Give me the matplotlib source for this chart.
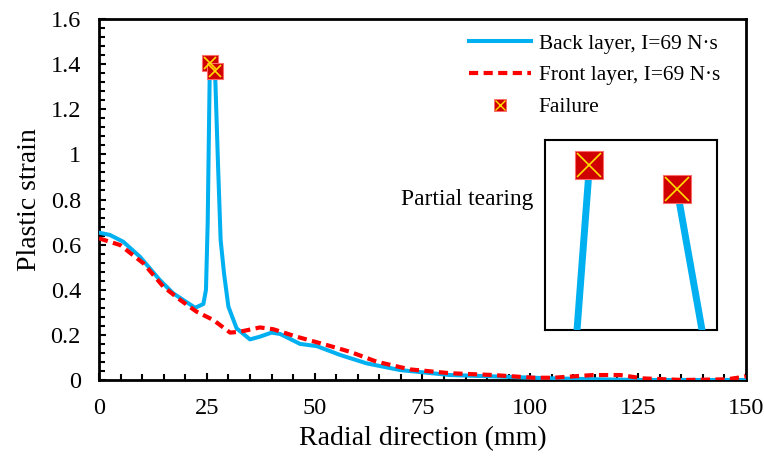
import matplotlib
matplotlib.use("Agg")
import matplotlib.pyplot as plt
from matplotlib.lines import Line2D
from matplotlib.legend_handler import HandlerTuple
from matplotlib.ticker import MultipleLocator

plt.rcParams['font.family'] = ['Liberation Serif', 'DejaVu Serif']

NaN = float('nan')

# ---- data ----
back_x = [0, 2.5, 5.6, 9.5, 14.1, 17.2, 22.3, 24.2, 24.8, 25.2, 25.7, 26.3, 26.9, 27.6, 28.2, 29.0,
          30.0, 31.9, 35.0, 37.3, 40.0, 42.0, 46.6, 50.5, 55.9, 62.0, 69.8, 81.4, 93.0,
          104.6, 116.0, 125.0, 135.0, 150.0]
back_y = [0.653, 0.643, 0.613, 0.546, 0.443, 0.384, 0.320, 0.337, 0.40, 0.70, 1.404, NaN, 1.369, 0.95, 0.62, 0.47,
          0.325, 0.229, 0.180, 0.192, 0.210, 0.204, 0.160, 0.150, 0.111, 0.074, 0.044, 0.022, 0.015,
          0.0075, 0.003, 0.0, 0.0, 0.0]

front_x = [0, 4.9, 10.3, 14.9, 18.8, 22.6, 26.5, 30.4, 32.7, 37.3, 40.4, 45.8, 52.8, 58.2,
           64.4, 72.1, 81.4, 91.4, 100.7, 105.3, 114.6, 120.8, 126.2, 135.4, 145.6, 149.8, 150]
front_y = [0.628, 0.598, 0.517, 0.414, 0.355, 0.303, 0.266, 0.210, 0.214, 0.233, 0.225, 0.192, 0.155, 0.125,
           0.081, 0.047, 0.030, 0.022, 0.010, 0.010, 0.022, 0.022, 0.007, 0.0, 0.003, 0.015, 0.02]

failure_x = [25.7, 26.9]
failure_y = [1.404, 1.369]

x_ticks = [0, 25, 50, 75, 100, 125, 150]
y_ticks = [0, 0.2, 0.4, 0.6, 0.8, 1.0, 1.2, 1.4, 1.6]
y_tick_labels = ['0', '0.2', '0.4', '0.6', '0.8', '1', '1.2', '1.4', '1.6']

label_back = 'Back layer, I=69 N\u00b7s'
label_front = 'Front layer, I=69 N\u00b7s'
label_fail = 'Failure'

BLUE = '#00B0F0'
RED = '#FF0000'

fig = plt.figure(figsize=(7.64, 4.57), dpi=100)
ax = fig.add_axes([0.1296, 0.1685, 0.8468, 0.7899])

ax.plot(back_x, back_y, color=BLUE, lw=2.9, solid_joinstyle='round', zorder=3)
ax.plot(front_x, front_y, color=RED, lw=3.0, dashes=(2.2, 1.3), zorder=4)


def failure(a, ms):
    a.plot(failure_x, failure_y, ls='none', marker='s', ms=ms, mfc='#D00000',
           mec='#FF6A6A', mew=0.8, zorder=5)
    a.plot(failure_x, failure_y, ls='none', marker='x', ms=ms * 0.85, mec='#FFE000',
           mew=1.2, zorder=6)


failure(ax, 11)

ax.set_xlim(0, 150)
ax.set_ylim(0, 1.6)
ax.set_xticks(x_ticks)
ax.set_yticks(y_ticks)
ax.set_yticklabels(y_tick_labels)
ax.xaxis.set_minor_locator(MultipleLocator(5))
ax.yaxis.set_minor_locator(MultipleLocator(0.04))
ax.tick_params(which='both', direction='in', width=1.5, labelsize=17.5, pad=13,
               top=False, right=False, colors='black')
ax.tick_params(which='major', length=5)
ax.tick_params(which='minor', length=4.5)
for s in ax.spines.values():
    s.set_linewidth(2)
ax.set_xlabel('Radial direction (mm)', fontsize=20, labelpad=5)
ax.set_ylabel('Plastic strain', fontsize=20, labelpad=6)

# legend
h_back = Line2D([], [], color=BLUE, lw=2.9)
h_front = Line2D([], [], color=RED, lw=3.0, dashes=(2.2, 1.3))
h_sq = Line2D([], [], ls='none', marker='s', ms=8, mfc='#D00000', mec='#FF6A6A', mew=0.6)
h_x = Line2D([], [], ls='none', marker='x', ms=7, mec='#FFE000', mew=1.0)
leg = ax.legend([h_back, h_front, (h_sq, h_x)], [label_back, label_front, label_fail],
                handler_map={tuple: HandlerTuple(ndivide=1)},
                loc='upper right', bbox_to_anchor=(0.978, 0.992), frameon=False,
                fontsize=15.4, handlelength=2.9, handletextpad=0.35, labelspacing=0.55,
                borderaxespad=0.15)

# inset
axin = fig.add_axes([0.7134, 0.2779, 0.2251, 0.4158])
axin.plot(back_x, back_y, color=BLUE, lw=5, zorder=3)
failure(axin, 20)
axin.set_xlim(25.09, 27.45)
axin.set_ylim(1.163, 1.44)
axin.set_xticks([])
axin.set_yticks([])
for s in axin.spines.values():
    s.set_linewidth(1.5)

fig.text(533 / 764, 1 - 199 / 457, 'Partial tearing', fontsize=16.9, ha='right', va='center')

fig.savefig('out.png', dpi=100)
